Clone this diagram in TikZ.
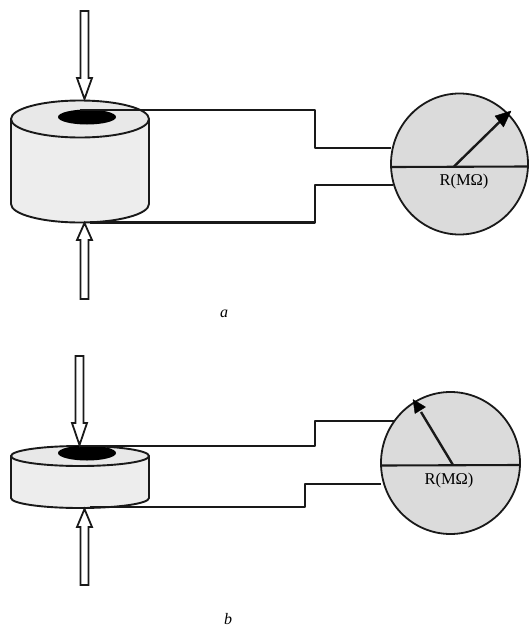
\documentclass[tikz,border=0pt]{standalone}
\usetikzlibrary{shapes.geometric}
\usepackage{fontspec}
\setmainfont{Liberation Serif}
\tikzset{
  x=1pt,y=-1pt,
  wire/.style={draw=black!90,line width=2.4pt,line join=round},
  outline/.style={draw=black!90,line width=1.9pt,line join=round},
  body/.style={outline,fill=black!7},
  top/.style={outline,fill=black!9},
  hole/.style={fill=black},
  press/.style={draw=black!90,line width=1.8pt,fill=white,line join=miter},
  meter/.style={ellipse,draw=black!90,line width=1.8pt,fill=black!14,inner sep=0pt},
  needle/.style={line width=2.4pt,draw=black!90},
  needletip/.style={fill=black,draw=black,line width=.4pt,line join=round},
  scale line/.style={line width=2.1pt,draw=black!90},
  rlabel/.style={font=\fontsize{16.5}{18}\selectfont,inner sep=0pt},
  caption/.style={font=\fontsize{16}{18}\selectfont\itshape,inner sep=0pt}
}
\newcommand{\disc}[4]{% cx, ytop-centre, ybottom-side, ry
  \path[body] (#1-69,#2) -- (#1-69,#3) arc[start angle=180,end angle=0,x radius=69,y radius=#4] -- (#1+69,#2) -- cycle;
  \path[top] (#1,#2) ellipse[x radius=69,y radius=#4];
}
\newcommand{\pressdown}[4]{% cx, ytop, yshoulder, ytip
  \path[press] (#1-4,#2) -- (#1+4,#2) -- (#1+4,#3) -- (#1+7.5,#3) -- (#1,#4) -- (#1-7.5,#3) -- (#1-4,#3) -- cycle;
}
\begin{document}
\begin{tikzpicture}
\useasboundingbox (0,0) rectangle (528,627);
% ---------- a ----------
\disc{80}{119}{204}{18.5}
\path[hole] (87,117) ellipse[x radius=29,y radius=7.5];
\node[meter,minimum width=137pt,minimum height=141pt] (ma) at (459.5,164) {};
\coordinate (a1) at (80,110);
\coordinate (a2) at (315,110);
\coordinate (a3) at (315,148);
\coordinate (a4) at (391,148);
\coordinate (a5) at (90,222.5);
\coordinate (a6) at (315,222.5);
\coordinate (a7) at (315,185);
\coordinate (a8) at (393,185);
\draw[wire] (a1) -- (a2) -- (a3) -- (a4);
\draw[wire] (a5) -- (a6) -- (a7) -- (a8);
\coordinate (al) at (392,167);
\coordinate (ar) at (527,166.5);
\draw[scale line] (al) -- (ar);
\coordinate (ac) at (454,166.5);
\coordinate (ae) at (511,111);
\draw[needle] (ac) -- (501,120.5);
\path[needletip] (ae) -- (503.5,127) -- (495,116) -- cycle;
\node[rlabel] (ra) at (464,182) {R(MΩ)};
\pressdown{84.5}{11}{78}{99}
\pressdown{84.5}{299}{240}{223}
\node[caption] (ca) at (224,314) {a};
% ---------- b ----------
\disc{80}{456}{498}{10}
\path[hole] (87,453) ellipse[x radius=29,y radius=7.5];
\node[meter,minimum width=139pt,minimum height=142pt] (mb) at (450.5,463) {};
\coordinate (b1) at (80,446);
\coordinate (b2) at (315,446);
\coordinate (b3) at (315,421);
\coordinate (b4) at (394,421);
\coordinate (b5) at (90,507);
\coordinate (b6) at (305,507);
\coordinate (b7) at (305,484);
\coordinate (b8) at (381,484);
\draw[wire] (b1) -- (b2) -- (b3) -- (b4);
\draw[wire] (b5) -- (b6) -- (b7) -- (b8);
\coordinate (bl) at (381.5,465.5);
\coordinate (br) at (519.5,465);
\draw[scale line] (bl) -- (br);
\coordinate (bc) at (453,465);
\coordinate (be) at (413,399.5);
\draw[needle] (bc) -- (421,412);
\path[needletip] (be) -- (425.5,407) -- (415,413.5) -- cycle;
\node[rlabel] (rb) at (449,481) {R(MΩ)};
\pressdown{79.5}{356}{423}{445}
\pressdown{84.5}{585}{527}{509}
\node[caption] (cb) at (228,619) {b};
\end{tikzpicture}
\end{document}
